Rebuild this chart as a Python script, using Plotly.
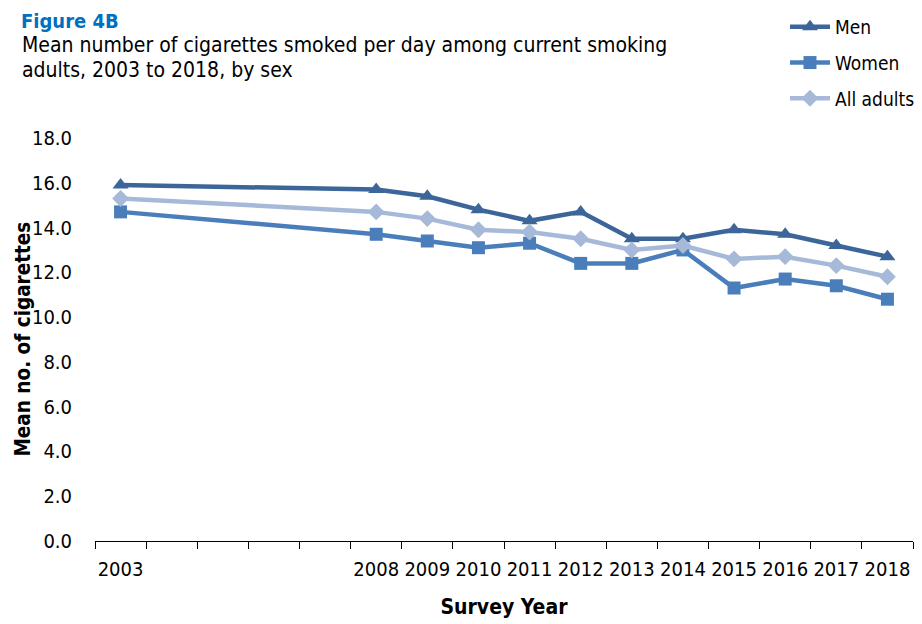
import plotly.graph_objects as go

years = [2003, 2008, 2009, 2010, 2011, 2012, 2013, 2014, 2015, 2016, 2017, 2018]
men = [15.9, 15.7, 15.4, 14.8, 14.3, 14.7, 13.5, 13.5, 13.9, 13.7, 13.2, 12.7]
women = [14.7, 13.7, 13.4, 13.1, 13.3, 12.4, 12.4, 13.0, 11.3, 11.7, 11.4, 10.8]
all_adults = [15.3, 14.7, 14.4, 13.9, 13.8, 13.5, 13.0, 13.2, 12.6, 12.7, 12.3, 11.8]
tick_labels = [str(y) for y in years]
y_ticks = [0, 2, 4, 6, 8, 10, 12, 14, 16, 18]

FONT = "DejaVu Sans Condensed, DejaVu Sans, sans-serif"
C_MEN = "#3C6699"
C_WOMEN = "#4A7EBB"
C_ALL = "#A7B9D9"

fig = go.Figure()
series = [
    ("Men", men, C_MEN, "triangle-up", 14),
    ("Women", women, C_WOMEN, "square", 13),
    ("All adults", all_adults, C_ALL, "diamond", 13),
]
for name, vals, col, sym, sz in series:
    fig.add_trace(go.Scatter(
        x=years, y=vals, name=name, mode="lines+markers",
        line=dict(color=col, width=4.5),
        marker=dict(symbol=sym, size=sz, color=col),
        legendgroup=name,
    ))

# page body has an 8px margin; lay out in figure pixels accordingly
OFF = 8
W, H = 922 - OFF, 624 - OFF
L, T = 95 - OFF, 138 - OFF
R = W - (913 - OFF)
B = H - (541 - OFF)
PW, PH = W - L - R, H - T - B


def px_x(x):
    return (x - OFF - L) / PW


def px_y(y):
    return (H - B - (y - OFF)) / PH


fig.update_layout(
    width=W, height=H,
    margin=dict(l=L, r=R, t=T, b=B, autoexpand=False),
    paper_bgcolor="white", plot_bgcolor="white",
    font=dict(family=FONT, size=20, color="#000000"),
    showlegend=True,
    legend=dict(
        x=1.0 - 2 / W, xanchor="right", xref="container",
        y=1.0 + 4 / H, yanchor="top", yref="container",
        font=dict(family=FONT, size=19), tracegroupgap=8,
        itemwidth=40, bgcolor="rgba(0,0,0,0)",
    ),
    xaxis=dict(
        type="linear", range=[2002.5, 2018.5],
        tickmode="array", tickvals=years, ticktext=tick_labels,
        ticks="", showgrid=False, zeroline=False,
        showline=True, linecolor="#000000", linewidth=1,
        tickfont=dict(family=FONT, size=20), ticklabelstandoff=10,
        minor=dict(tickmode="linear", tick0=2002.5, dtick=1, ticks="outside",
                   ticklen=7, tickcolor="#000000", tickwidth=1, showgrid=False),
        title=dict(text="<b>Survey Year</b>", font=dict(family=FONT, size=21), standoff=19),
    ),
    yaxis=dict(
        range=[0, 18], tickmode="array", tickvals=y_ticks,
        ticktext=[f"{v:.1f}" for v in y_ticks],
        showgrid=False, zeroline=False, showline=False,
        ticks="", ticklabelstandoff=22,
        tickfont=dict(family=FONT, size=20),
    ),
    annotations=[
        dict(text="<b>Mean no. of cigarettes</b>", xref="paper", yref="paper",
             x=px_x(22), y=0.5, xanchor="center", yanchor="middle", textangle=-90,
             showarrow=False, font=dict(family=FONT, size=20.5, color="#000000")),
        dict(text="<b>Figure 4B</b>", xref="paper", yref="paper",
             x=px_x(20), y=px_y(OFF), xanchor="left", yanchor="top", showarrow=False,
             borderpad=0,
             font=dict(family=FONT, size=20, color="#0070C0")),
        dict(text="Mean number of cigarettes smoked per day among current smoking",
             xref="paper", yref="paper", x=px_x(20), y=px_y(45), xanchor="left", yanchor="middle",
             showarrow=False, align="left",
             font=dict(family=FONT, size=21, color="#000000")),
        dict(text="adults, 2003 to 2018, by sex",
             xref="paper", yref="paper", x=px_x(20), y=px_y(70), xanchor="left", yanchor="middle",
             showarrow=False, align="left",
             font=dict(family=FONT, size=21, color="#000000")),
    ],
)

fig.write_html("out.html")
